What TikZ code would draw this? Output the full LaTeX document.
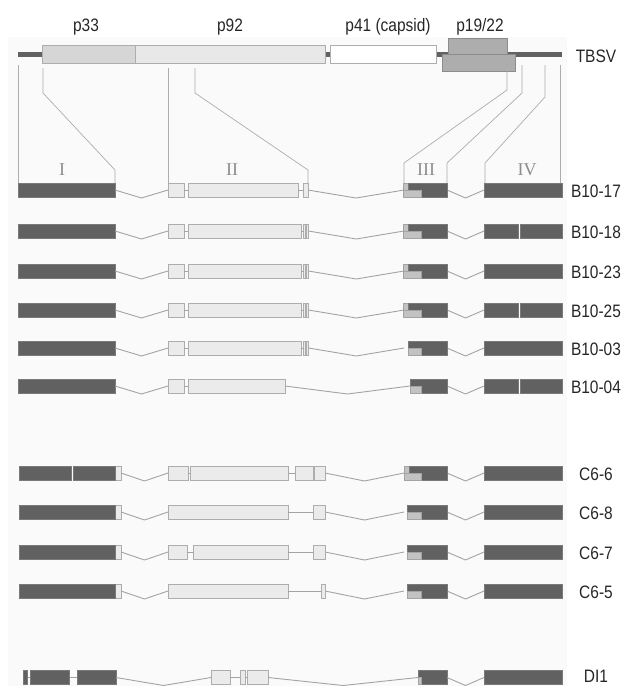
\documentclass[tikz,border=0pt]{standalone}
\usepackage{fontspec}
\newfontfamily\lblfont[FakeStretch=0.86]{Liberation Sans}
\newfontfamily\romfont{Liberation Serif}
\newcommand\exon[4][lite]{\draw[#1] (#2,#4-7) rectangle (#3,#4+7);}
\newcommand\bridge[3]{\draw[intline] (#1,#3) -- (#2,#3);}
\newcommand\intr[3]{\draw[intline] (#1,#3) -- ({(#1+#2)/2},#3+8) -- (#2,#3);}
% region III: left edge, start of dark part, y
\newcommand\regthree[3]{\exon[mid]{#1}{447}{#3}\exon[dark]{#2}{447}{#3}%
  \draw[mid] (#1,#3) rectangle (421,#3+7);}
\begin{document}
\begin{tikzpicture}[x=1pt, y=-1pt,
  dark/.style={fill=black!62, draw=black!52, line width=.6pt},
  lite/.style={fill=black!8, draw=black!32, line width=.6pt},
  mid/.style={fill=black!24, draw=black!36, line width=.6pt},
  intline/.style={draw=black!36, line width=.9pt},
  map/.style={draw=black!32, line width=.7pt},
  lbl/.style={font=\lblfont\fontsize{18}{20}\selectfont, text=black!85, inner sep=0pt},
  reg/.style={font=\romfont\fontsize{18}{20}\selectfont, text=black!45, inner sep=0pt}]
\useasboundingbox (0,0) rectangle (624,686);
\fill[black!2] (8,37) rectangle (567,686);

% TBSV genome
\fill[black!62] (18,52) rectangle (562,57);
\draw[lite, fill=black!16] (42,45) rectangle (135,63);
\draw[lite, fill=black!9] (135,45) rectangle (325,63);
\draw[lite, fill=white] (330,45) rectangle (436,63);
\draw[lite, fill=black!32, draw=black!45] (448,38) rectangle (507,54);
\draw[lite, fill=black!32, draw=black!45] (442,54) rectangle (515,71);
\node[lbl, anchor=base] (p33) at (86,31.5) {p33};
\node[lbl, anchor=base] (p92) at (230,31.5) {p92};
\node[lbl, anchor=base] (p41) at (388,31.5) {p41 (capsid)};
\node[lbl, anchor=base] (p19) at (480,31.5) {p19/22};
\node[lbl] (tbsv) at (596,56) {TBSV};

% regions I-IV
\draw[map] (18,65) -- (18,183);
\draw[map] (43,68) -- (43,93) -- (115,170) -- (115,183);
\draw[map] (168,68) -- (168,183);
\draw[map] (195,68) -- (195,93) -- (308,170) -- (308,183);
\draw[map] (507,71) -- (507,90) -- (404,163) -- (404,183);
\draw[map] (522,65) -- (522,93) -- (447,163) -- (447,183);
\draw[map] (545,65) -- (545,97) -- (485,163) -- (485,183);
\draw[map] (560,65) -- (560,183);
\node[reg, anchor=base] (I) at (62,175) {I};
\node[reg, anchor=base] (II) at (232,175) {II};
\node[reg, anchor=base] (III) at (426,175) {III};
\node[reg, anchor=base] (IV) at (527,175) {IV};

% B10 clones
\foreach \y in {190,231,271,310,348,386}
{
    \exon[dark]{18}{115}{\y}
    \intr{115}{168}{\y}
    \exon{168}{184}{\y}
    \bridge{184}{188}{\y}
    \intr{447}{484}{\y}
}
\exon{188}{298}{190}\bridge{298}{303}{190}\exon{303}{308}{190}\intr{308}{404}{190}
\foreach \y in {231,271,310,348}
{
    \exon{188}{301}{\y}\bridge{301}{303}{\y}
    \exon{303}{305.5}{\y}\exon{306}{308.5}{\y}
    \intr{308.5}{404}{\y}
}
\exon{188}{285}{386}\intr{285}{410}{386}
\foreach \y in {190,231,271,310} {\regthree{403}{408}{\y}}
\regthree{408}{408}{348}
\regthree{410}{410}{386}
\foreach \y in {190,271,348} {\exon[dark]{484}{562}{\y}}
\foreach \y in {231,310,386} {\exon[dark]{484}{518}{\y}\exon[dark]{520}{562}{\y}}

% C6 clones
\foreach \y in {473,512,552,591}
{
    \exon{115}{121}{\y}
    \intr{121}{168}{\y}
    \intr{325}{404}{\y}
    \intr{447}{484}{\y}
    \exon[dark]{484}{562}{\y}
}
\exon[dark]{19}{71}{473}\exon[dark]{73}{115}{473}
\foreach \y in {512,552,591} {\exon[dark]{19}{115}{\y}}
\exon{168}{188}{473}\bridge{188}{190.5}{473}\exon{190.5}{288}{473}
\bridge{288}{295}{473}\exon{295}{313.5}{473}\exon{314.5}{325}{473}
\exon{168}{288}{512}\bridge{288}{313}{512}\exon{313}{325}{512}
\exon{168}{187}{552}\bridge{187}{193}{552}\exon{193}{288}{552}
\bridge{288}{313}{552}\exon{313}{325}{552}
\exon{168}{288}{591}\bridge{288}{321}{591}\exon{321}{325}{591}
\regthree{404}{409}{473}
\foreach \y in {512,552,591} {\regthree{407}{407}{\y}}

% DI1
\bridge{27}{30}{677.5}\bridge{69}{77}{677.5}
\exon[dark]{23}{27}{677.5}\exon[dark]{30}{69}{677.5}\exon[dark]{77}{116}{677.5}
\intr{116}{211}{677.5}
\exon{211}{230}{677.5}\bridge{230}{240}{677.5}\exon{240}{245}{677.5}
\bridge{245}{247}{677.5}\exon{247}{268}{677.5}
\intr{268}{418}{677.5}
\regthree{418}{418}{677.5}
\intr{447}{484}{677.5}
\exon[dark]{484}{562}{677.5}

\foreach \y/\n in {190/B10-17,231/B10-18,271/B10-23,310/B10-25,348/B10-03,386/B10-04,473/C6-6,512/C6-8,552/C6-7,591/C6-5,675/DI1}
    \node[lbl] (\n) at (596,\y+1) {\n};
\end{tikzpicture}
\end{document}
